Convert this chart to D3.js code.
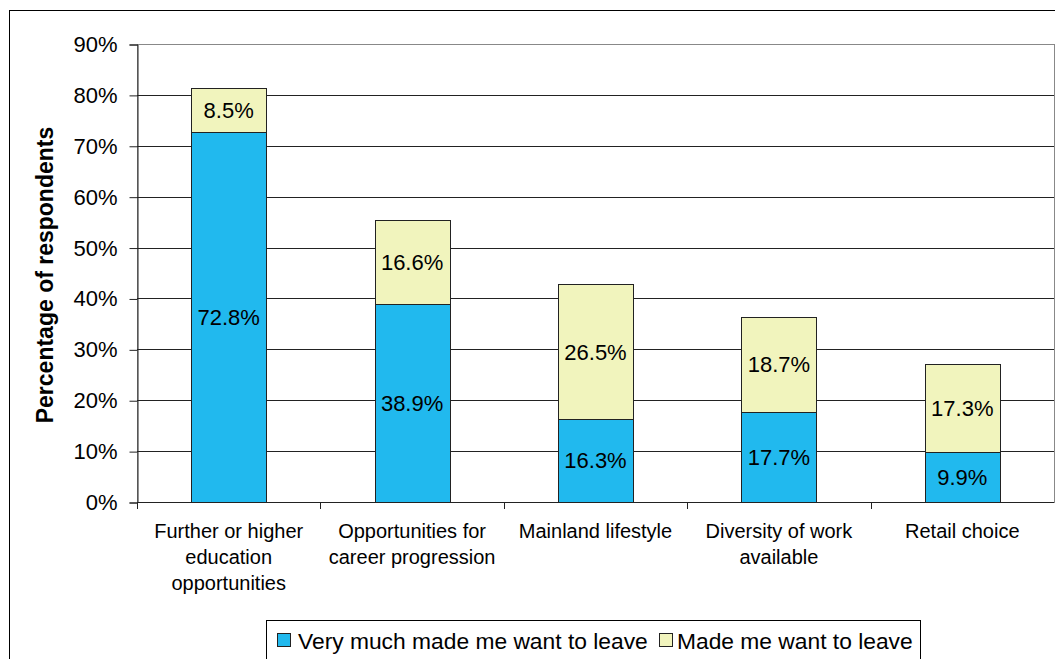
<!DOCTYPE html>
<html>
<head>
<meta charset="utf-8">
<script src="https://cdn.jsdelivr.net/npm/d3@7"></script>
<style>
  html, body { margin: 0; padding: 0; background: #fff; }
  svg { display: block; font-family: "Liberation Sans", Arial, sans-serif; }
</style>
</head>
<body>
<svg id="chart" width="1055" height="659"></svg>
<script>
// Reasons respondents gave for wanting to leave (share of respondents)
const categories = [
  "Further or higher\neducation\nopportunities",
  "Opportunities for\ncareer progression",
  "Mainland lifestyle",
  "Diversity of work\navailable",
  "Retail choice"
];
const veryMuch = [72.8, 38.9, 16.3, 17.7, 9.9];
const madeMe = [8.5, 16.6, 26.5, 18.7, 17.3];
const seriesNames = ["Very much made me want to leave", "Made me want to leave"];
const seriesColors = ["#21b9ee", "#f1f4bd"];
const yTicks = [0, 10, 20, 30, 40, 50, 60, 70, 80, 90];

const svg = d3.select("#chart");
const plot = { left: 137, right: 1054, top: 44, bottom: 502 };

const x = d3.scaleBand()
  .domain(categories)
  .range([plot.left, plot.right])
  .paddingInner(0.59)
  .paddingOuter(0.295);

const y = d3.scaleLinear().domain([0, 90]).range([plot.bottom, plot.top]);

// outer chart frame
svg.append("rect")
  .attr("x", 9.5).attr("y", 10.5)
  .attr("width", 1060).attr("height", 700)
  .attr("fill", "#fff").attr("stroke", "#000").attr("stroke-width", 1);

// plot area frame (top/right edges)
svg.append("rect")
  .attr("x", plot.left + 0.5).attr("y", plot.top + 0.5)
  .attr("width", plot.right - plot.left).attr("height", plot.bottom - plot.top)
  .attr("fill", "#fff").attr("stroke", "#888").attr("stroke-width", 1);

// horizontal gridlines
svg.append("g")
  .selectAll("line")
  .data(yTicks.filter(t => t > 0 && t < 90))
  .join("line")
  .attr("x1", plot.left).attr("x2", plot.right)
  .attr("y1", d => Math.round(y(d)) + 0.5)
  .attr("y2", d => Math.round(y(d)) + 0.5)
  .attr("stroke", "#222").attr("stroke-width", 1);

// y axis
const yAxis = d3.axisLeft(y)
  .tickValues(yTicks)
  .tickSize(8)
  .tickPadding(12)
  .tickFormat(d => d + "%");
const gy = svg.append("g")
  .attr("transform", `translate(${plot.left + 0.5},0.5)`)
  .call(yAxis);
gy.select(".domain").attr("stroke", "#222");
gy.selectAll(".tick line").attr("stroke", "#222");
gy.selectAll(".tick text")
  .attr("font-size", 22)
  .attr("font-family", "Liberation Sans, Arial, sans-serif")
  .attr("fill", "#000");

// x axis: baseline with ticks on category boundaries
const boundaries = d3.range(categories.length + 1)
  .map(i => plot.left + i * (plot.right - plot.left) / categories.length);
const gx = svg.append("g");
gx.append("line")
  .attr("x1", plot.left).attr("x2", plot.right)
  .attr("y1", plot.bottom + 0.5).attr("y2", plot.bottom + 0.5)
  .attr("stroke", "#222");
gx.selectAll("line.tick")
  .data(boundaries.slice(0, categories.length))
  .join("line")
  .attr("class", "tick")
  .attr("x1", d => Math.round(d) + 0.5).attr("x2", d => Math.round(d) + 0.5)
  .attr("y1", plot.bottom).attr("y2", plot.bottom + 7)
  .attr("stroke", "#222");

// category labels
svg.append("g")
  .selectAll("text")
  .data(categories)
  .join("text")
  .attr("text-anchor", "middle")
  .attr("font-size", 20)
  .attr("fill", "#000")
  .each(function (d) {
    const cx = x(d) + x.bandwidth() / 2;
    d3.select(this).selectAll("tspan")
      .data(d.split("\n"))
      .join("tspan")
      .attr("x", cx)
      .attr("y", (t, i) => 538 + i * 26)
      .text(t => t);
  });

// stacked bars
const rows = categories.map((c, i) => ({ cat: c, v0: veryMuch[i], v1: madeMe[i] }));
const stack = d3.stack().keys(["v0", "v1"])(rows);

const layers = svg.append("g")
  .selectAll("g")
  .data(stack)
  .join("g")
  .attr("fill", (d, i) => seriesColors[i]);

layers.selectAll("rect")
  .data(d => d)
  .join("rect")
  .attr("x", d => Math.round(x(d.data.cat)) + 0.5)
  .attr("y", d => Math.round(y(d[1])) + 0.5)
  .attr("width", Math.round(x.bandwidth()))
  .attr("height", d => Math.round(y(d[0])) - Math.round(y(d[1])))
  .attr("stroke", "#222").attr("stroke-width", 1);

// value labels in the middle of each segment
layers.selectAll("text")
  .data(d => d)
  .join("text")
  .attr("x", d => x(d.data.cat) + x.bandwidth() / 2)
  .attr("y", d => (y(d[0]) + y(d[1])) / 2)
  .attr("dy", "0.36em")
  .attr("text-anchor", "middle")
  .attr("font-size", 22)
  .attr("fill", "#000")
  .text(d => (d[1] - d[0]).toFixed(1) + "%");

// y axis title
svg.append("text")
  .attr("transform", "translate(53,275) rotate(-90)")
  .attr("text-anchor", "middle")
  .attr("font-size", 23)
  .attr("font-weight", "bold")
  .attr("fill", "#000")
  .text("Percentage of respondents");

// legend
const legend = svg.append("g");
legend.append("rect")
  .attr("x", 266.5).attr("y", 620.5)
  .attr("width", 654).attr("height", 42)
  .attr("fill", "#fff").attr("stroke", "#000");
const itemX = [277, 659];
const textGap = [21, 18];
seriesNames.forEach((name, i) => {
  legend.append("rect")
    .attr("x", itemX[i] + 0.5).attr("y", 633.5)
    .attr("width", 13).attr("height", 13)
    .attr("fill", seriesColors[i]).attr("stroke", "#222");
  legend.append("text")
    .attr("x", itemX[i] + textGap[i]).attr("y", 649)
    .attr("font-size", 22.8)
    .attr("fill", "#000")
    .text(name);
});
</script>
</body>
</html>
